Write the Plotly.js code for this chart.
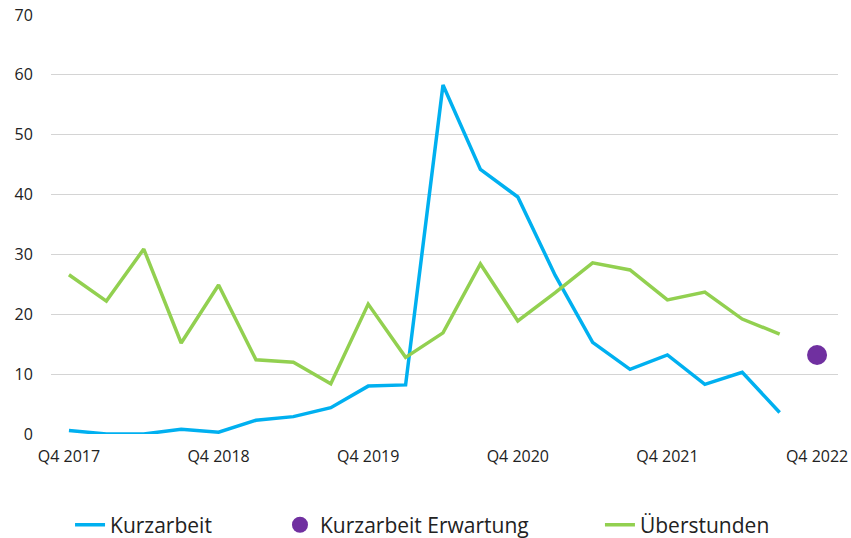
<!DOCTYPE html>
<html><head><meta charset="utf-8">
<script src="https://cdn.plot.ly/plotly-3.0.1.min.js"></script>
<style>html,body{margin:0;padding:0;background:#fff;}#chart{width:851px;height:538px;}</style>
</head><body><div id="chart"></div>
<script>
const quarters = ["Q4 2017","Q1 2018","Q2 2018","Q3 2018","Q4 2018","Q1 2019","Q2 2019","Q3 2019","Q4 2019","Q1 2020","Q2 2020","Q3 2020","Q4 2020","Q1 2021","Q2 2021","Q3 2021","Q4 2021","Q1 2022","Q2 2022","Q3 2022","Q4 2022"];
const kurzarbeit = [0.6,0.0,0.0,0.8,0.3,2.3,2.9,4.4,8.0,8.2,58.3,44.2,39.6,26.5,15.3,10.8,13.2,8.3,10.3,3.6];
const kurzarbeitErwartung = [13.2];
const erwartungQuarter = ["Q4 2022"];
const ueberstunden = [26.6,22.2,30.9,15.2,24.9,12.4,12.0,8.4,21.7,12.8,16.9,28.4,18.9,23.6,28.6,27.4,22.4,23.7,19.2,16.7];
const tickLabels = ["Q4 2017","Q4 2018","Q4 2019","Q4 2020","Q4 2021","Q4 2022"];

const font = "'Open Sans', 'Noto Sans', sans-serif";
const data = [
  {x: quarters.slice(0, kurzarbeit.length), y: kurzarbeit, name: "Kurzarbeit", type: "scatter", mode: "lines",
   line: {color: "#00B0F0", width: 3.5}, legend: "legend"},
  {x: erwartungQuarter, y: kurzarbeitErwartung, name: "Kurzarbeit Erwartung", type: "scatter", mode: "markers",
   marker: {color: "#7030A0", size: 20}, legend: "legend2"},
  {x: quarters.slice(0, ueberstunden.length), y: ueberstunden, name: "Überstunden", type: "scatter", mode: "lines",
   line: {color: "#92D050", width: 3.5}, legend: "legend3"}
];
const legBase = {orientation: "h", xref: "container", yref: "container", yanchor: "middle", y: 0.024, xanchor: "left",
  bgcolor: "rgba(0,0,0,0)", font: {family: font, size: 21, color: "#222"}};
const layout = {
  width: 851, height: 538,
  margin: {l: 51, r: 13, t: 15, b: 104, autoexpand: false},
  paper_bgcolor: "#fff", plot_bgcolor: "#fff",
  font: {family: font, size: 16, color: "#222"},
  showlegend: true,
  xaxis: {type: "category", categoryorder: "array", categoryarray: quarters,
    range: [-0.48, 20.56], tickvals: tickLabels, ticktext: tickLabels,
    showgrid: false, zeroline: false, showline: false, ticks: "outside", ticklen: 8, tickcolor: "rgba(0,0,0,0)",
    tickfont: {family: font, size: 16, color: "#222"}},
  yaxis: {range: [0, 70], tickvals: [0,10,20,30,40,50,60,70], showgrid: true, gridcolor: "#d4d4d4", gridwidth: 1,
    zeroline: false, showline: false, ticks: "outside", ticklen: 14, tickcolor: "rgba(0,0,0,0)",
    tickfont: {family: font, size: 16, color: "#222"}},
  legend: Object.assign({}, legBase, {x: 0.0823}),
  legend2: Object.assign({}, legBase, {x: 0.329}),
  legend3: Object.assign({}, legBase, {x: 0.705})
};
Plotly.newPlot("chart", data, layout, {displayModeBar: false, staticPlot: true});
</script></body></html>
